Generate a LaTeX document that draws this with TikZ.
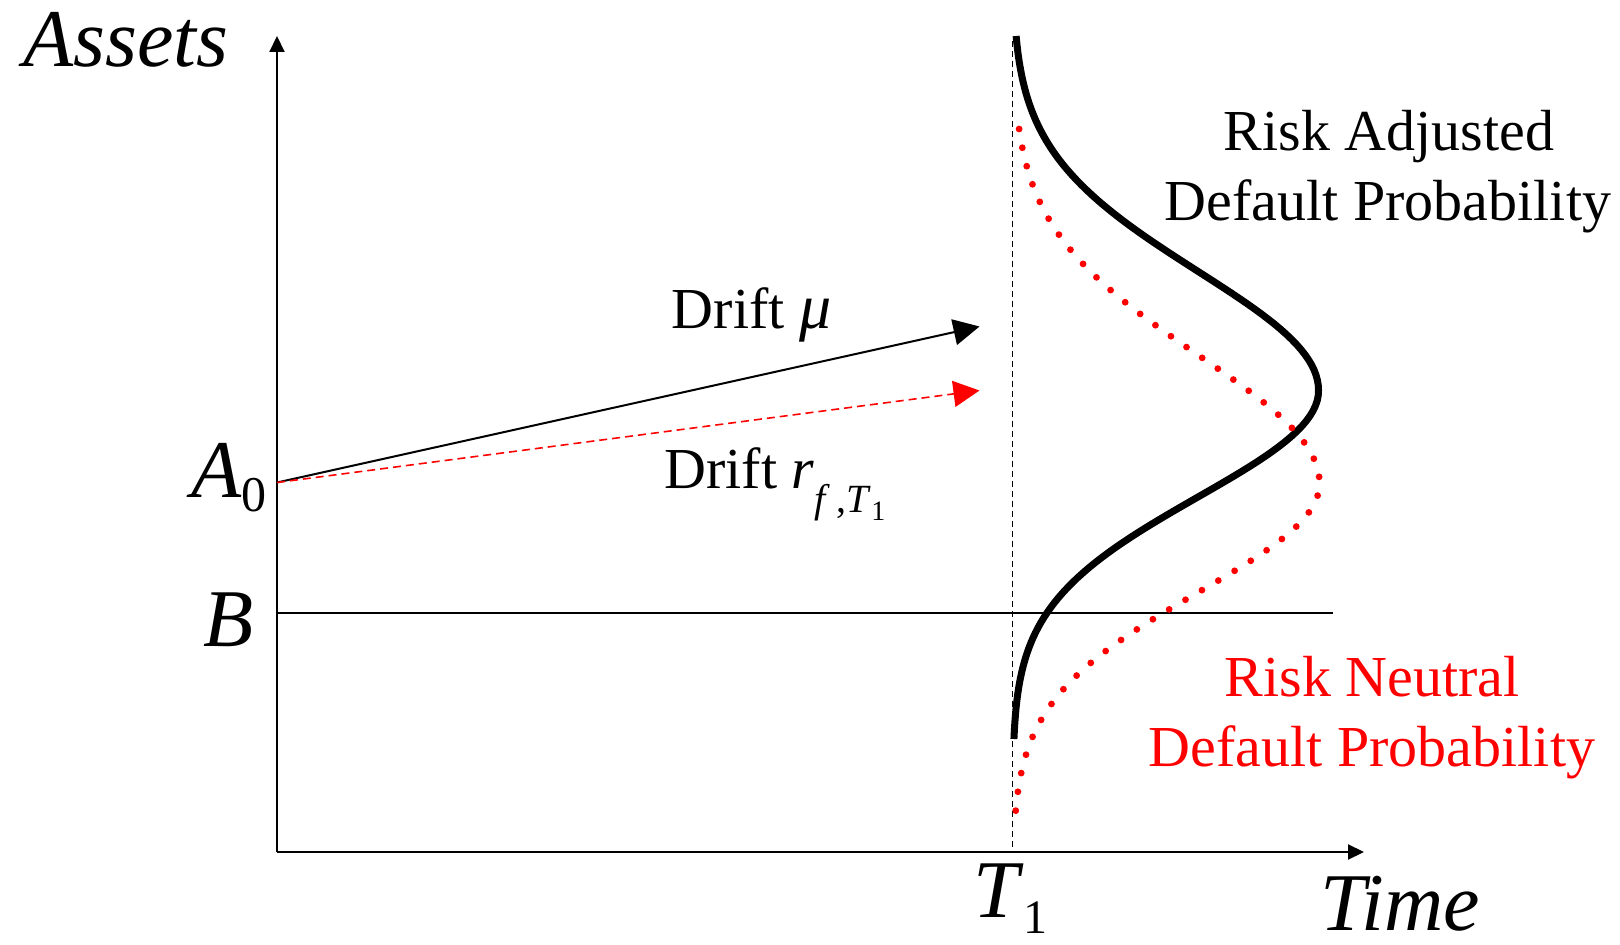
\documentclass[tikz,border=0pt]{standalone}
\usepackage{fontspec}
\setmainfont{Liberation Serif}
\usetikzlibrary{arrows.meta}
\newcommand{\bigfnt}{\fontsize{41}{49}\selectfont}
\newcommand{\midfnt}{\fontsize{29}{35}\selectfont}
\tikzset{
  axisline/.style={line width=1pt, -{Triangle[length=8pt,width=7.5pt]}},
  thinline/.style={line width=1pt},
  drifttip/.style={-{Triangle[length=13pt,width=13pt]}},
  blackcurve/.style={line width=3.5pt},
  redcurve/.style={red, line width=3.4pt, line cap=round, dash pattern=on 0pt off 9.5pt},
  lbl/.style={anchor=base west, inner sep=0pt},
  lblc/.style={anchor=base, inner sep=0pt},
}
\begin{document}
\begin{tikzpicture}[x=0.5pt,y=-0.5pt]
\useasboundingbox (0,0) rectangle (1620,945);
% coordinates
\coordinate (O) at (277,852);
\coordinate (ytop) at (277,36);
\coordinate (xend) at (1364,852);
\coordinate (A0) at (277,482.5);
\coordinate (Bstart) at (277,613);
\coordinate (Bend) at (1333,613);
\coordinate (tipmu) at (979.5,326.5);
\coordinate (tipr) at (979.5,390.5);
\coordinate (Ttop) at (1012.5,41);
\coordinate (Tbot) at (1012.5,852);
% axes
\draw[axisline] (O) -- (ytop);
\draw[axisline] (O) -- (xend);
\draw[thinline] (Bstart) -- (Bend);
\draw[line width=0.75pt, dash pattern=on 3pt off 2pt] (Ttop) -- (Tbot);
% drift arrows
\draw[thinline, drifttip] (A0) -- (tipmu);
\draw[red, line width=0.8pt, dash pattern=on 4pt off 2.5pt, drifttip] (A0) -- (tipr);
% distributions
\draw[blackcurve] plot[domain=36:390.5, samples=70, variable=\t] ({1012.5+306*exp(-0.5*((\t-390.5)/119)*((\t-390.5)/119))},\t)
  -- plot[domain=390.5:739, samples=70, variable=\t] ({1012.5+306*exp(-0.5*((\t-390.5)/106.4)*((\t-390.5)/106.4))},\t);
\draw[redcurve] plot[domain=129:483.5, samples=70, variable=\t] ({1012.5+307*exp(-0.5*((\t-483.5)/128)*((\t-483.5)/128))},\t)
  -- plot[domain=483.5:826.5, samples=70, variable=\t] ({1012.5+307*exp(-0.5*((\t-483.5)/108.5)*((\t-483.5)/108.5))},\t);
% labels
\node[lbl] (assets) at (23,67) {\bigfnt\itshape Assets};
\node[lbl] (time) at (1320,930) {\bigfnt\itshape Time};
\node[lbl] (a0lbl) at (191,498) {\bigfnt\textit{A}\raisebox{-7pt}{\fontsize{25}{25}\selectfont 0}};
\node[lbl] (blbl) at (203.5,646) {\bigfnt\textit{B}};
\node[lbl] (t1lbl) at (973,917) {\bigfnt\textit{T}\raisebox{-8pt}{\fontsize{24}{24}\selectfont 1}};
\node[lbl] (dmu) at (671.5,328.5) {\midfnt Drift {\fontsize{32}{35}\selectfont\textit{μ}}};
\node[lbl] (dr) at (664,489) {\midfnt Drift \textit{r}\raisebox{-12pt}{\fontsize{20}{20}\selectfont\textit{f}\,,\textit{T}\raisebox{-4pt}{\fontsize{14}{14}\selectfont 1}}};
\node[lblc] (ra1) at (1389,151) {\midfnt Risk Adjusted};
\node[lblc] (ra2) at (1388,221) {\midfnt Default Probability};
\node[lblc, text=red] (rn1) at (1372,696) {\midfnt Risk Neutral};
\node[lblc, text=red] (rn2) at (1372,766.5) {\midfnt Default Probability};
\end{tikzpicture}
\end{document}
